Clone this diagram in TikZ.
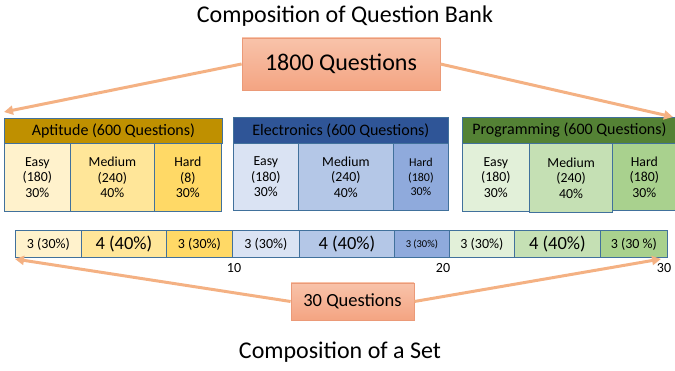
\documentclass[tikz,border=0pt]{standalone}
\usepackage{fontspec}
\setmainfont{Carlito}
\usetikzlibrary{arrows.meta,positioning}
\definecolor{apthead}{HTML}{BF9000}
\definecolor{aptA}{HTML}{FFF2CC}
\definecolor{aptB}{HTML}{FFE699}
\definecolor{aptC}{HTML}{FFD966}
\definecolor{elehead}{HTML}{2F5597}
\definecolor{eleA}{HTML}{DAE3F3}
\definecolor{eleB}{HTML}{B4C7E7}
\definecolor{eleC}{HTML}{8FAADC}
\definecolor{prohead}{HTML}{548235}
\definecolor{proA}{HTML}{E2F0D9}
\definecolor{proB}{HTML}{C5E0B4}
\definecolor{proC}{HTML}{A9D18E}
\definecolor{cellline}{HTML}{41719C}
\definecolor{linkcol}{HTML}{F4B183}
\definecolor{totaltop}{HTML}{F8C3AA}
\definecolor{totalbot}{HTML}{F4A482}
\definecolor{totalline}{HTML}{EB9A78}

\begin{document}
\begin{tikzpicture}[x=1pt,y=-1pt,
  head/.style={draw=cellline, line width=0.8pt, anchor=north west, inner sep=0pt,
    minimum height=25pt, font=\fontsize{16}{18}\selectfont},
  cell/.style={draw=cellline, line width=0.8pt, anchor=north west, inner sep=0pt,
    align=center, minimum height=68pt, font=\fontsize{13.8}{15.5}\selectfont},
  slot/.style={draw=cellline, line width=0.8pt, anchor=north west, inner sep=0pt,
    minimum height=27pt, font=\fontsize{14}{16}\selectfont},
  big/.style={font=\fontsize{18.5}{20}\selectfont},
  tick/.style={font=\fontsize{14}{16}\selectfont},
  total/.style={draw=totalline, line width=0.8pt, top color=totaltop,
    bottom color=totalbot, inner sep=0pt},
  link/.style={linkcol, line width=3pt, -{Triangle[length=9pt,width=9pt]}}]
  \useasboundingbox (0,0) rectangle (675,371);

  % titles
  \node[font=\fontsize{24}{26}\selectfont] (bankTitle) at (345,16) {Composition of Question Bank};
  \node[font=\fontsize{24}{26}\selectfont] (setTitle) at (340,352) {Composition of a Set};

  % question bank
  \node[total, minimum width=198pt, minimum height=52pt,
    font=\fontsize{24}{26}\selectfont] (bank) at (341,64) {1800 Questions};

  \path
  node[head, fill=apthead, minimum width=218pt] (aptHead) at (4,118) {Aptitude (600 Questions)}
  node[cell, fill=aptA, minimum width=66pt] (aptEasy) at (4,143) {Easy\\(180)\\30\%}
  node[cell, fill=aptB, minimum width=84pt] (aptMedium) at (70,143) {Medium\\(240)\\40\%}
  node[cell, fill=aptC, minimum width=67pt] (aptHard) at (154,143) {Hard\\(8)\\30\%}

  node[head, fill=elehead, minimum width=215pt, minimum height=26pt] (eleHead) at (233,117) {Electronics (600 Questions)}
  node[cell, fill=eleA, minimum width=65pt, minimum height=67pt] (eleEasy) at (233,143) {Easy\\(180)\\30\%}
  node[cell, fill=eleB, minimum width=95pt, minimum height=67pt] (eleMedium) at (298,143) {Medium\\(240)\\40\%}
  node[cell, fill=eleC, minimum width=55pt, minimum height=67pt,
    font=\fontsize{12}{14.5}\selectfont] (eleHard) at (393,143) {Hard\\(180)\\30\%}

  node[head, fill=prohead, minimum width=214pt, minimum height=26pt] (proHead) at (462,117) {Programming (600 Questions)}
  node[cell, fill=proA, minimum width=67pt] (proEasy) at (462,143) {Easy\\(180)\\30\%}
  node[cell, fill=proB, minimum width=83pt, minimum height=69pt, line width=1.3pt] (proMedium) at (529,143) {Medium\\(240)\\40\%}
  node[cell, fill=proC, minimum width=64pt, minimum height=67pt] (proHard) at (612,143) {Hard\\(180)\\30\%}
  ;

  % one set of 30
  \path
  node[slot, fill=aptA, minimum width=66pt] (s1) at (15,230) {3 (30\%)}
  node[slot, fill=aptB, minimum width=85pt, big] (s2) at (81,230) {4 (40\%)}
  node[slot, fill=aptC, minimum width=66pt] (s3) at (166,230) {3 (30\%)}
  node[slot, fill=eleA, minimum width=67pt] (s4) at (232,230) {3 (30\%)}
  node[slot, fill=eleB, minimum width=95pt, big] (s5) at (299,230) {4 (40\%)}
  node[slot, fill=eleC, minimum width=55pt, font=\fontsize{10.5}{12}\selectfont] (s6) at (394,230) {3 (30\%)}
  node[slot, fill=proA, minimum width=65pt] (s7) at (449,230) {3 (30\%)}
  node[slot, fill=proB, minimum width=86pt, big] (s8) at (514,230) {4 (40\%)}
  node[slot, fill=proC, minimum width=67pt] (s9) at (600,230) {3 (30 \%)}
  node[tick] (t10) at (234,268) {10}
  node[tick] (t20) at (443,268) {20}
  node[tick] (t30) at (664,268) {30}
  ;

  \node[total, minimum width=123pt, minimum height=37pt,
    font=\fontsize{18.5}{20}\selectfont] (set) at (352.5,301.5) {30 Questions};

  \coordinate (bankL) at (4,112);
  \coordinate (bankR) at (673,117);
  \coordinate (setL) at (15,259);
  \coordinate (setR) at (661,259);

  \draw[link] (bank.west) -- (bankL);
  \draw[link] (bank.east) -- (bankR);
  \draw[link] (set.west) -- (setL);
  \draw[link] (set.east) -- (setR);
\end{tikzpicture}
\end{document}
